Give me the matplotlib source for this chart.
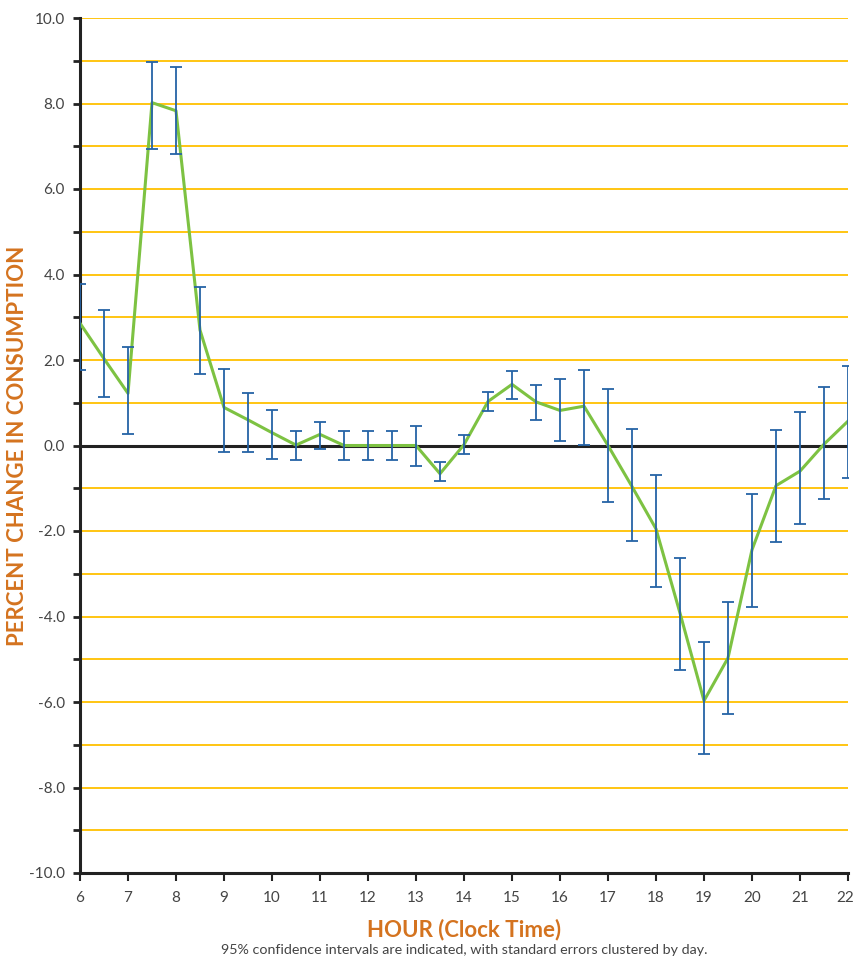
import matplotlib
matplotlib.use("Agg")
import matplotlib.pyplot as plt
import matplotlib.transforms as mtransforms
import numpy as np

plt.rcParams['font.family'] = ['Lato', 'DejaVu Sans']

hours = [6.0, 6.5, 7.0, 7.5, 8.0, 8.5, 9.0, 9.5, 10.0, 10.5, 11.0, 11.5, 12.0, 12.5,
         13.0, 13.5, 14.0, 14.5, 15.0, 15.5, 16.0, 16.5, 17.0, 17.5, 18.0, 18.5,
         19.0, 19.5, 20.0, 20.5, 21.0, 21.5, 22.0]
pct_change = [2.86, 2.03, 1.22, 8.02, 7.83, 2.70, 0.89, 0.60, 0.30, 0.01, 0.26, 0.0, 0.0, 0.0,
              0.0, -0.66, 0.02, 1.03, 1.43, 1.02, 0.82, 0.92, 0.0, -0.96, -1.95, -3.92,
              -5.97, -4.97, -2.44, -0.94, -0.60, 0.03, 0.57]
ci_high = [3.78, 3.17, 2.30, 8.97, 8.85, 3.70, 1.78, 1.22, 0.84, 0.33, 0.56, 0.33, 0.33, 0.33,
           0.45, -0.39, 0.24, 1.25, 1.74, 1.42, 1.56, 1.76, 1.31, 0.39, -0.68, -2.63,
           -4.60, -3.66, -1.13, 0.36, 0.78, 1.38, 1.85]
ci_low = [1.76, 1.13, 0.27, 6.94, 6.82, 1.67, -0.16, -0.16, -0.32, -0.33, -0.09, -0.33, -0.33, -0.33,
          -0.47, -0.84, -0.21, 0.80, 1.09, 0.60, 0.11, 0.02, -1.31, -2.23, -3.30, -5.24,
          -7.22, -6.27, -3.77, -2.25, -1.84, -1.24, -0.76]

x_ticks = list(range(6, 23))
y_major = [10.0, 8.0, 6.0, 4.0, 2.0, 0.0, -2.0, -4.0, -6.0, -8.0, -10.0]
y_grid = list(range(-9, 11))

orange = '#D4731F'
gray = '#444444'

fig = plt.figure(figsize=(8.54, 9.6), dpi=100)
ax = fig.add_axes([80/854, 1-873/960, 768/854, 855/960])

for g in y_grid:
    if g == 0:
        continue
    ax.axhline(g, color='#FFC000', lw=1.3, zorder=1)
ax.axhline(0, color='#222222', lw=2.2, zorder=2)

x = np.array(hours)
y = np.array(pct_change)
lo = y - np.array(ci_low)
hi = np.array(ci_high) - y

ax.plot(x, y, color='#7DC242', lw=2.2, zorder=3)
ax.errorbar(x, y, yerr=[lo, hi], fmt='none', ecolor='#2563A6', elinewidth=1.3,
            capsize=4.3, capthick=1.3, zorder=4)

ax.set_xlim(6, 22)
ax.set_ylim(-10, 10)

for s in ['top', 'right']:
    ax.spines[s].set_visible(False)
for s in ['left', 'bottom']:
    ax.spines[s].set_color('#222222')
    ax.spines[s].set_linewidth(2.2)

ax.set_xticks(x_ticks)
ax.set_xticklabels([str(h) for h in x_ticks])
ax.set_yticks(y_major)
ax.set_yticklabels([f"{v:.1f}" for v in y_major])
ax.set_yticks([v for v in y_grid if v % 2 != 0], minor=True)
ax.tick_params(axis='y', which='both', direction='out', length=5, width=2, color='#222222',
               labelsize=11, labelcolor=gray, pad=6)
ax.tick_params(axis='x', direction='out', length=6, width=1.5, color='#222222',
               labelsize=11, labelcolor=gray, pad=7)

# nudge the last x tick label so it stays inside the figure
last = ax.get_xticklabels()[-1]
last.set_transform(last.get_transform() + mtransforms.ScaledTranslation(-3/100, 0, fig.dpi_scale_trans))

ax.set_xlabel('HOUR (Clock Time)', color=orange, fontsize=16, fontweight='bold', labelpad=10)
ax.set_ylabel('PERCENT CHANGE IN CONSUMPTION', color=orange, fontsize=16, fontweight='bold')
ax.yaxis.set_label_coords(-0.068, 0.5)

fig.text(464/854, 1-950/960, '95% confidence intervals are indicated, with standard errors clustered by day.',
         ha='center', va='center', fontsize=10.3, color=gray)

fig.savefig('out.png', dpi=100)
